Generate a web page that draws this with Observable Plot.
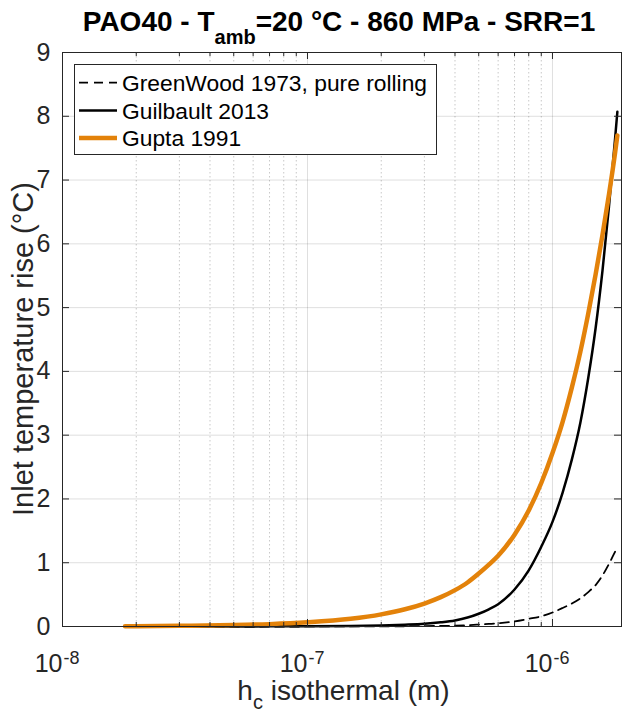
<!DOCTYPE html>
<html><head><meta charset="utf-8">
<script src="https://cdn.jsdelivr.net/npm/d3@7"></script>
<script src="https://cdn.jsdelivr.net/npm/@observablehq/plot@0.6"></script>
<style>
html,body{margin:0;padding:0;background:#fff;}
#chart{width:623px;height:715px;}
svg{display:block;}
</style></head><body><div id="chart"></div>
<script>
// ---- data ----
const hc = [1.8e-8, 2e-8, 3e-8, 5e-8, 7e-8, 1e-7, 1.5e-7, 2e-7, 2.5e-7, 3e-7, 3.5e-7, 4e-7, 4.5e-7, 5e-7, 5.5e-7, 6e-7, 7e-7, 8e-7, 9e-7, 1e-6, 1.1e-6, 1.2e-6, 1.3e-6, 1.4e-6, 1.5e-6, 1.6e-6, 1.7e-6, 1.8e-6, 1.84e-6];
const greenwood = [0, 0, 0, 0, 0, 0.0005, 0.001, 0.002, 0.004, 0.006, 0.009, 0.013, 0.02, 0.03, 0.04, 0.05, 0.08, 0.12, 0.16, 0.22, 0.29, 0.36, 0.44, 0.54, 0.65, 0.8, 0.98, 1.17, 1.24];
const guilbault = [0, 0, 0.0005, 0.001, 0.002, 0.004, 0.009, 0.017, 0.028, 0.042, 0.065, 0.095, 0.14, 0.2, 0.27, 0.35, 0.58, 0.88, 1.25, 1.64, 2.1, 2.62, 3.2, 3.9, 4.68, 5.58, 6.58, 7.64, 8.07];
const gupta = [0.004, 0.005, 0.011, 0.022, 0.037, 0.065, 0.12, 0.19, 0.27, 0.36, 0.46, 0.57, 0.69, 0.83, 0.97, 1.11, 1.44, 1.82, 2.25, 2.72, 3.21, 3.75, 4.31, 4.91, 5.52, 6.14, 6.77, 7.42, 7.7];

const seriesNames = ["GreenWood 1973, pure rolling", "Guilbault 2013", "Gupta 1991"];
const seriesColors = ["#000000", "#000000", "#E3820A"];
const seriesWidths = [1.8, 2.5, 4.5];
const seriesDashes = ["9,6", null, null];

const xMajorTicks = [1e-8, 1e-7, 1e-6];
const xTickBase = ["10", "10", "10"];
const xTickExponents = ["-8", "-7", "-6"];
const xMinorTicks = [2e-8, 3e-8, 4e-8, 5e-8, 6e-8, 7e-8, 8e-8, 9e-8, 2e-7, 3e-7, 4e-7, 5e-7, 6e-7, 7e-7, 8e-7, 9e-7];
const yTicks = [0, 1, 2, 3, 4, 5, 6, 7, 8, 9];
const yTickLabels = ["0", "1", "2", "3", "4", "5", "6", "7", "8", "9"];

const titleParts = ["PAO40 - T", "amb", "=20 °C - 860 MPa - SRR=1"];
const xLabelParts = ["h", "c", " isothermal (m)"];
const yLabel = "Inlet temperature rise (°C)";

// ---- build ----
const data = hc.map((h, i) => ({h, greenwood: greenwood[i], guilbault: guilbault[i], gupta: gupta[i]}));
const keys = ["greenwood", "guilbault", "gupta"];

const W = 623, H = 715, ML = 62, MR = 2, MT = 52, MB = 89;
const FW = W - ML - MR, FH = H - MT - MB;
const AX = "#262626";
const FONT = "'Liberation Sans', Arial, Helvetica, sans-serif";

const plot = Plot.plot({
  width: W, height: H,
  marginLeft: ML, marginRight: MR, marginTop: MT, marginBottom: MB,
  style: {fontFamily: FONT, background: "white", overflow: "visible"},
  x: {type: "log", domain: [1e-8, 1.913e-6], axis: null},
  y: {domain: [0, 9], axis: null},
  marks: [
    Plot.ruleX(xMinorTicks, {x: d => d, stroke: "#c8c8c8", strokeDasharray: "1.5,2.5", strokeWidth: 1}),
    Plot.ruleX(xMajorTicks, {x: d => d, stroke: AX, strokeOpacity: 0.15, strokeWidth: 1}),
    Plot.ruleY(yTicks, {y: d => d, stroke: AX, strokeOpacity: 0.15, strokeWidth: 1}),
    ...keys.map((k, i) => Plot.line(data, {
      x: "h", y: k, stroke: seriesColors[i], strokeWidth: seriesWidths[i],
      strokeDasharray: seriesDashes[i], curve: "monotone-x"
    })),
    Plot.tickX(xMajorTicks, {x: d => d, stroke: AX, insetTop: FH - 7}),
    Plot.tickX(xMajorTicks, {x: d => d, stroke: AX, insetBottom: FH - 7}),
    Plot.tickX(xMinorTicks, {x: d => d, stroke: AX, insetTop: FH - 4}),
    Plot.tickX(xMinorTicks, {x: d => d, stroke: AX, insetBottom: FH - 4}),
    Plot.tickY(yTicks, {y: d => d, stroke: AX, insetRight: FW - 7}),
    Plot.tickY(yTicks, {y: d => d, stroke: AX, insetLeft: FW - 7}),
    Plot.frame({stroke: AX, strokeWidth: 1}),
    Plot.text(yTicks, {y: d => d, text: (d, i) => yTickLabels[i], frameAnchor: "left", textAnchor: "end", dx: -12, fontSize: 25, fill: AX, fontFamily: FONT}),
    Plot.text(xMajorTicks, {x: d => d, text: (d, i) => xTickBase[i], frameAnchor: "bottom", textAnchor: "end", dx: 0, dy: 45, fontSize: 25, fill: AX, fontFamily: FONT}),
    Plot.text(xMajorTicks, {x: d => d, text: (d, i) => xTickExponents[i], frameAnchor: "bottom", textAnchor: "start", dx: 1, dy: 37, fontSize: 18, fill: AX, fontFamily: FONT})
  ]
});

document.getElementById("chart").appendChild(plot);
const svg = d3.select(plot);

// title
const t = svg.append("text").attr("x", 339).attr("y", 31).attr("text-anchor", "middle")
  .attr("font-family", FONT).attr("font-weight", "bold").attr("font-size", 28).attr("fill", "#000");
t.append("tspan").text(titleParts[0]);
t.append("tspan").attr("dy", 13).attr("font-size", 20).text(titleParts[1]);
t.append("tspan").attr("dy", -13).attr("font-size", 28).text(titleParts[2]);

// x label
const xl = svg.append("text").attr("x", ML + FW / 2 + 2).attr("y", 700).attr("text-anchor", "middle")
  .attr("font-family", FONT).attr("font-size", 28).attr("fill", AX);
xl.append("tspan").text(xLabelParts[0]);
xl.append("tspan").attr("dy", 9).attr("font-size", 20).text(xLabelParts[1]);
xl.append("tspan").attr("dy", -9).attr("font-size", 28).text(xLabelParts[2]);

// y label
svg.append("text").attr("transform", "translate(33,349) rotate(-90)").attr("text-anchor", "middle")
  .attr("font-family", FONT).attr("font-size", 29).attr("fill", AX).text(yLabel);

// legend
const lg = svg.append("g").attr("text-anchor", "start");
lg.append("rect").attr("x", 74.5).attr("y", 64.5).attr("width", 362).attr("height", 90)
  .attr("fill", "white").attr("stroke", AX).attr("stroke-width", 1);
const rowY = [82.7, 110.5, 138];
seriesNames.forEach((name, i) => {
  lg.append("line").attr("x1", 79).attr("x2", 117).attr("y1", rowY[i]).attr("y2", rowY[i])
    .attr("stroke", seriesColors[i]).attr("stroke-width", seriesWidths[i])
    .attr("stroke-dasharray", seriesDashes[i]);
  lg.append("text").attr("x", 122).attr("y", rowY[i] + 8.2).attr("text-anchor", "start")
    .attr("font-family", FONT).attr("font-size", 22.8).attr("fill", "#000").text(name);
});
</script></body></html>
